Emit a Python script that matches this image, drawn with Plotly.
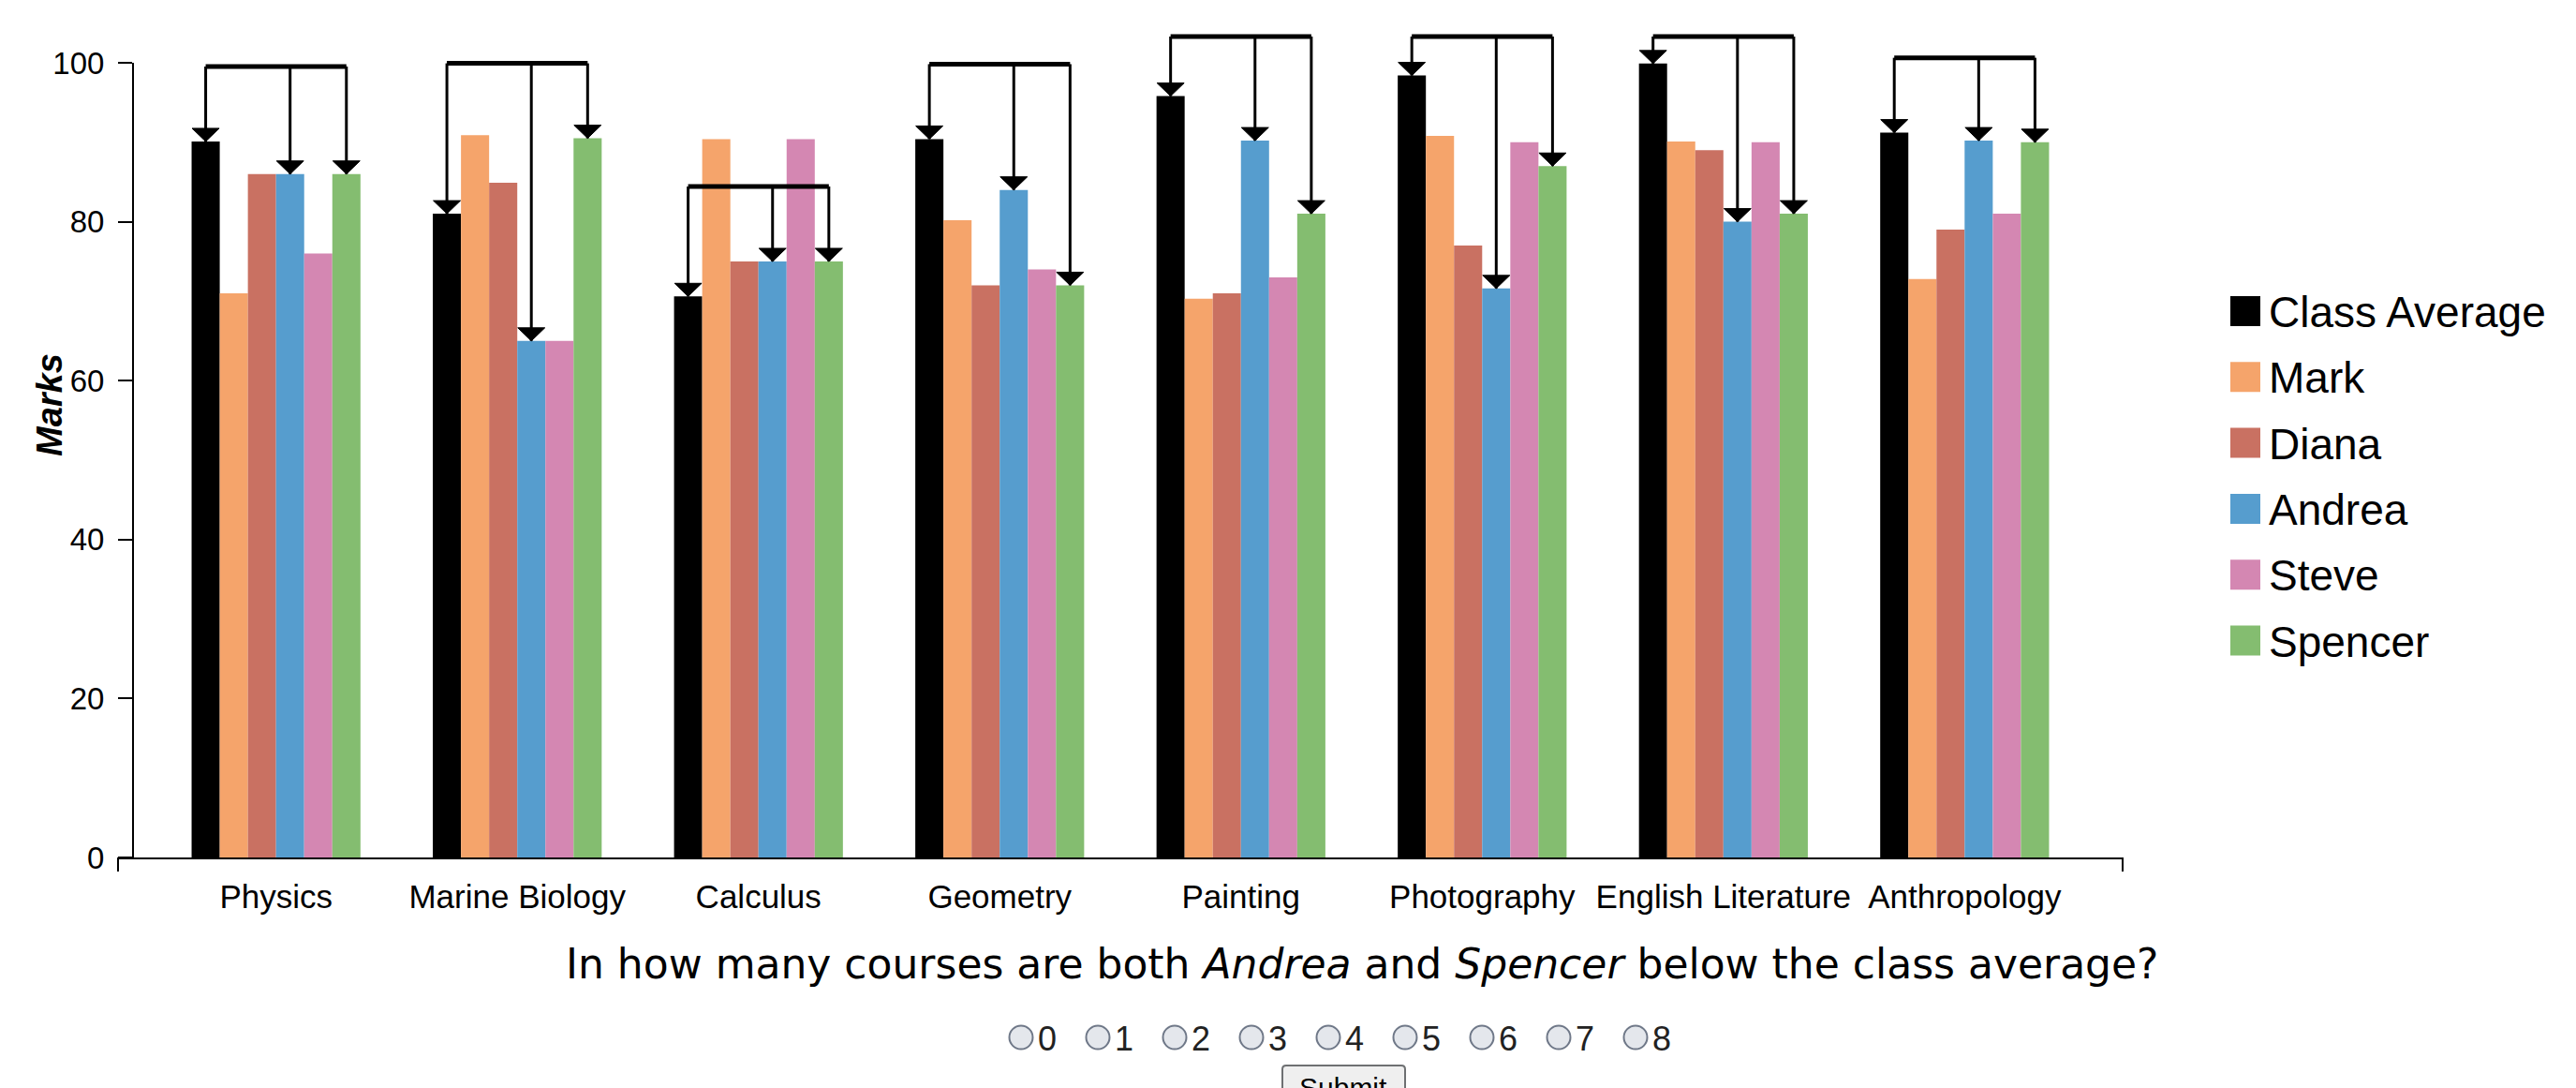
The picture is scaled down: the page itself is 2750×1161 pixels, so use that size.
import plotly.graph_objects as go

# ---- data -------------------------------------------------------------
courses = ["Physics", "Marine Biology", "Calculus", "Geometry",
           "Painting", "Photography", "English Literature", "Anthropology"]
series_names = ["Class Average", "Mark", "Diana", "Andrea", "Steve", "Spencer"]
class_average = [90.1, 81.0, 70.6, 90.4, 95.8, 98.4, 99.9, 91.2]
mark = [71.0, 90.9, 90.4, 80.2, 70.3, 90.8, 90.1, 72.8]
diana = [86.0, 84.9, 75.0, 72.0, 71.0, 77.0, 89.0, 79.0]
andrea = [86.0, 65.0, 75.0, 84.0, 90.2, 71.6, 80.0, 90.2]
steve = [76.0, 65.0, 90.4, 74.0, 73.0, 90.0, 90.0, 81.0]
spencer = [86.0, 90.5, 75.0, 72.0, 81.0, 87.0, 81.0, 90.0]
y_ticks = [0, 20, 40, 60, 80, 100]
compared = ["Class Average", "Andrea", "Spencer"]
answer_choices = ["0", "1", "2", "3", "4", "5", "6", "7", "8"]
question_html = ("In how many courses are both <i>Andrea</i> and "
                 "<i>Spencer</i> below the class average?")

series_values = [class_average, mark, diana, andrea, steve, spencer]
colors = ["#000000", "#F5A46B", "#C97162", "#569DCE", "#D487B2", "#84BD70"]

# ---- geometry ---------------------------------------------------------
W, H = 2750, 1161
PLOT_L, PLOT_R, PLOT_T, PLOT_B = 126, 2266, 67, 915
X_RANGE = [-0.655, len(courses) - 1 + 0.655]
Y_RANGE = [0, 100]
GROUP = 0.70
BAR_W = GROUP / len(series_names)
BRACKET_GAP = 9.43     # bracket sits this far above the tallest compared bar
BRACKET_CAP = 103.3    # ...but never higher than this


def px_x(px):
    return (px - PLOT_L) / (PLOT_R - PLOT_L)


def px_y(py):
    return (PLOT_B - py) / (PLOT_B - PLOT_T)


def data_x(x):
    return (x - X_RANGE[0]) / (X_RANGE[1] - X_RANGE[0])


def data_y(v):
    return (v - Y_RANGE[0]) / (Y_RANGE[1] - Y_RANGE[0])


def bar_center(cat, series_idx):
    return cat - GROUP / 2 + (series_idx + 0.5) * BAR_W


fig = go.Figure()
xs = list(range(len(courses)))
for i, (name, vals) in enumerate(zip(series_names, series_values)):
    fig.add_trace(go.Bar(
        x=xs, y=vals, name=name, width=BAR_W,
        offset=-GROUP / 2 + i * BAR_W,
        marker=dict(color=colors[i], line=dict(width=0)),
        showlegend=False,
    ))

shapes = []
annotations = []

# ---- comparison brackets with arrows ---------------------------------
idxs = [series_names.index(n) for n in compared]
for c in range(len(courses)):
    tops = [series_values[i][c] for i in idxs]
    level = min(max(tops) + BRACKET_GAP, BRACKET_CAP)
    centers = [bar_center(c, i) for i in idxs]
    shapes.append(dict(type="line", xref="paper", yref="paper",
                       x0=data_x(centers[0]), x1=data_x(centers[-1]),
                       y0=data_y(level), y1=data_y(level),
                       line=dict(color="black", width=5)))
    for xc, top in zip(centers, tops):
        shapes.append(dict(type="line", xref="paper", yref="paper",
                           x0=data_x(xc), x1=data_x(xc),
                           y0=data_y(level), y1=data_y(top),
                           line=dict(color="black", width=3)))
        shapes.append(dict(type="path", xref="paper", yref="paper",
                           xsizemode="pixel", ysizemode="pixel",
                           xanchor=data_x(xc), yanchor=data_y(top),
                           path="M-14.5,14 L14.5,14 L0,0 Z",
                           fillcolor="black", line=dict(color="black", width=1)))

# outer ticks at both ends of the category axis
for xe in (0, 1):
    shapes.append(dict(type="line", xref="paper", yref="paper",
                       x0=xe, x1=xe, y0=0, y1=px_y(930),
                       line=dict(color="black", width=2)))

# ---- legend -----------------------------------------------------------
for k, (name, col) in enumerate(zip(series_names, colors)):
    cy = 332 + 70.3 * k
    shapes.append(dict(type="rect", xref="paper", yref="paper",
                       x0=px_x(2381), x1=px_x(2413),
                       y0=px_y(cy - 16), y1=px_y(cy + 16),
                       fillcolor=col, line=dict(width=0)))
    annotations.append(dict(text=name, xref="paper", yref="paper",
                            x=px_x(2420), y=px_y(cy + 1),
                            xanchor="left", yanchor="middle", showarrow=False,
                            font=dict(family="Arial", size=46, color="black")))

# ---- axis title -------------------------------------------------------
annotations.append(dict(text="<b><i>Marks</i></b>", xref="paper", yref="paper",
                        x=px_x(53), y=px_y(432), textangle=-90,
                        xanchor="center", yanchor="middle", showarrow=False,
                        font=dict(family="Arial", size=38, color="black")))

# ---- question and answer form -----------------------------------------
annotations.append(dict(text=question_html, xref="paper", yref="paper",
                        x=px_x(602), y=px_y(1028), xanchor="left",
                        yanchor="middle", showarrow=False,
                        font=dict(family="DejaVu Sans", size=44, color="black")))

for k, choice in enumerate(answer_choices):
    cx = 1090 + 82 * k
    shapes.append(dict(type="circle", xref="paper", yref="paper",
                       xsizemode="pixel", ysizemode="pixel",
                       xanchor=px_x(cx), yanchor=px_y(1107),
                       x0=-12.5, x1=12.5, y0=-12.5, y1=12.5,
                       fillcolor="#E4E7EC", line=dict(color="#6F7888", width=2)))
    annotations.append(dict(text=choice, xref="paper", yref="paper",
                            x=px_x(cx + 16), y=px_y(1108), xanchor="left",
                            yanchor="middle", showarrow=False,
                            font=dict(family="Arial", size=36, color="#222222")))

shapes.append(dict(type="path", xref="paper", yref="paper",
                   xsizemode="pixel", ysizemode="pixel",
                   xanchor=px_x(1369), yanchor=px_y(1137),
                   path="M4,0 L127,0 Q131,0 131,-4 L131,-40 L0,-40 L0,-4 Q0,0 4,0 Z",
                   fillcolor="#EFEFEF", line=dict(color="#6E7072", width=2)))
annotations.append(dict(text="Submit", xref="paper", yref="paper",
                        x=px_x(1434), y=px_y(1160), xanchor="center",
                        yanchor="middle", showarrow=False,
                        font=dict(family="Arial", size=30, color="black")))

fig.update_layout(
    width=W, height=H,
    margin=dict(l=PLOT_L, r=W - PLOT_R, t=PLOT_T, b=H - PLOT_B, pad=0),
    paper_bgcolor="white", plot_bgcolor="white",
    barmode="overlay",
    showlegend=False,
    shapes=shapes,
    annotations=annotations,
    xaxis=dict(range=X_RANGE, tickvals=xs, ticktext=courses,
               showline=True, linecolor="black", linewidth=2,
               ticks="", showgrid=False, zeroline=False,
               ticklabelstandoff=10,
               tickfont=dict(family="Arial", size=35, color="black")),
    yaxis=dict(range=Y_RANGE, tickvals=y_ticks, anchor="free",
               position=px_x(142), showline=True, linecolor="black",
               linewidth=2, ticks="outside", ticklen=15, tickwidth=2,
               tickcolor="black", showgrid=False, zeroline=False,
               ticklabelstandoff=8,
               tickfont=dict(family="Arial", size=33, color="black")),
)

fig.write_html("out.html")
